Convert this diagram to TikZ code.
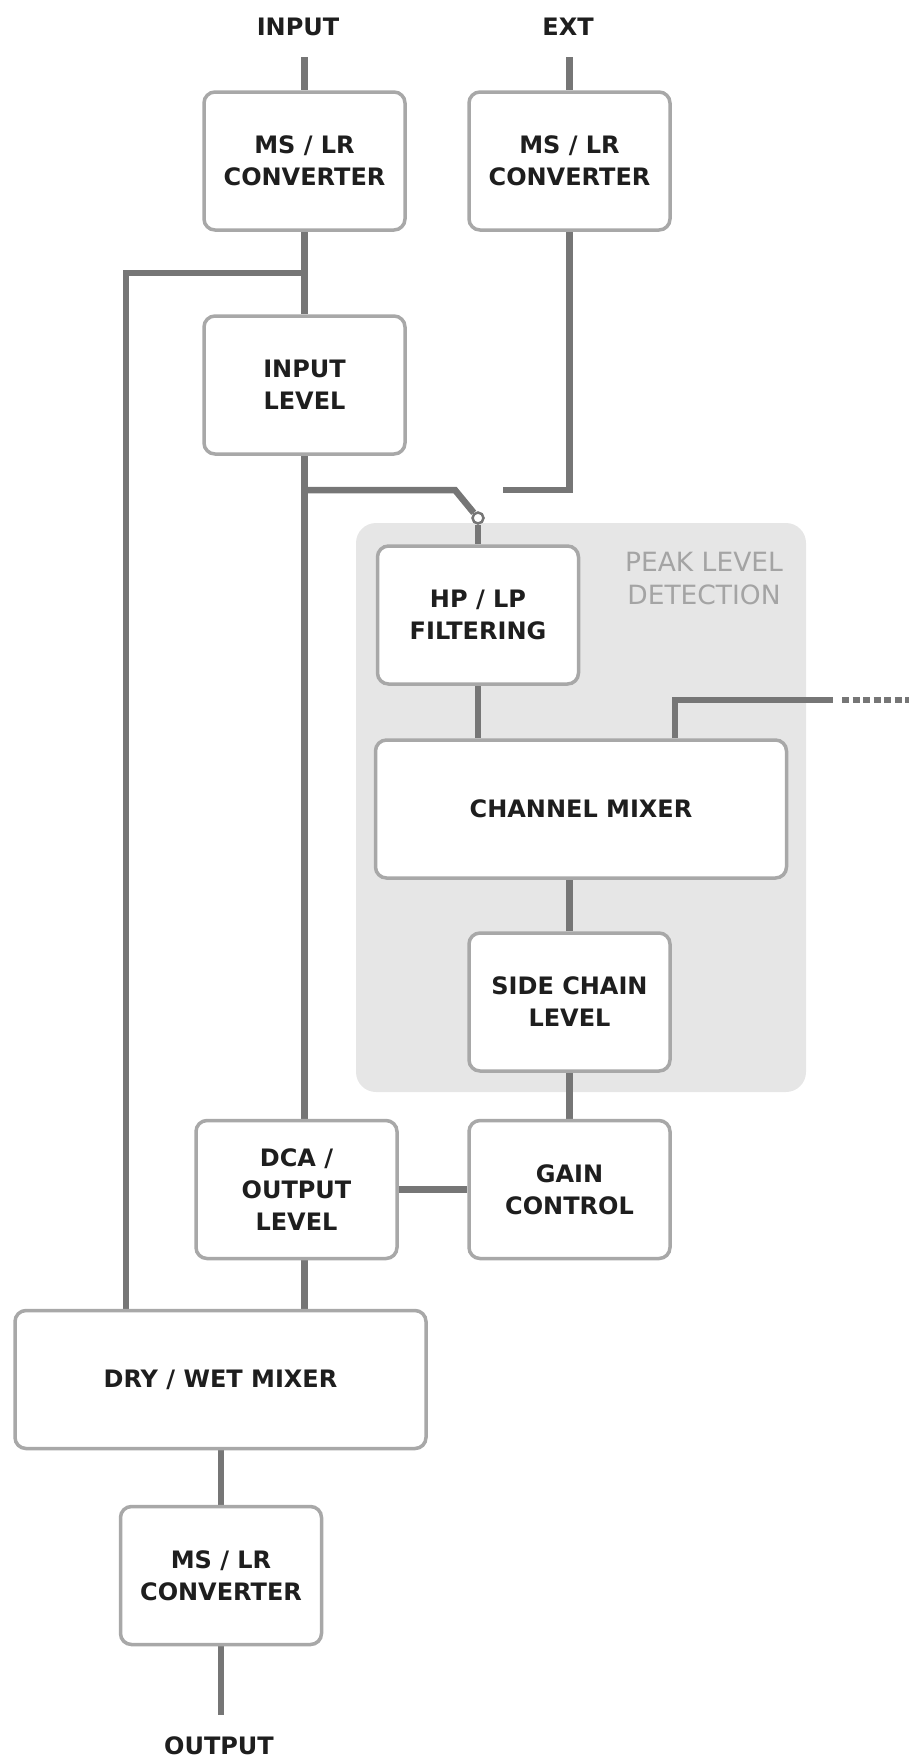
\documentclass[tikz,border=0pt]{standalone}
\usepackage{fontspec}
\setmainfont{DejaVu Sans}
\usetikzlibrary{calc}
\pgfdeclarelayer{panel}
\pgfdeclarelayer{wires}
\pgfsetlayers{panel,wires,main}
\definecolor{wiregray}{HTML}{767676}
\definecolor{boxgray}{HTML}{A8A8A8}
\definecolor{panelgray}{HTML}{E6E6E6}
\definecolor{txt}{HTML}{1E1E1E}
\definecolor{paneltxt}{HTML}{A4A4A4}
\begin{document}
\begin{tikzpicture}[x=1pt,y=-1pt,
  blk/.style={draw=boxgray, line width=3.5pt, rounded corners=11pt, fill=white,
    align=center, inner sep=0pt, text=txt,
    font=\fontsize{24}{32}\selectfont\bfseries,
    minimum width=201pt, minimum height=138pt},
  wide/.style={minimum width=411pt},
  wire/.style={draw=wiregray, line width=6.5pt},
  dotwire/.style={draw=wiregray, line width=6.5pt, dash pattern=on 7pt off 3.5pt},
  lbl/.style={text=txt, font=\fontsize{24}{32}\selectfont\bfseries, inner sep=0pt, anchor=base},
  panelbox/.style={fill=panelgray, rounded corners=20pt, inner sep=0pt},
  switchdot/.style={circle, draw=wiregray, line width=2.5pt, fill=white, minimum size=11pt, inner sep=0pt},
]
\useasboundingbox (0,0) rectangle (908,1759);

% panel
\begin{pgfonlayer}{panel}
\node[panelbox, minimum width=450pt, minimum height=569pt] (panel) at (581,807.5) {};
\end{pgfonlayer}
\node[text=paneltxt, align=center, inner sep=0pt,
  font=\fontsize{26.5}{33}\selectfont] (peak) at (704,579) {PEAK LEVEL\\DETECTION};

% labels
\node[lbl] (inlab) at (298,35) {INPUT};
\node[lbl] (extlab) at (568,35) {EXT};
\node[lbl] (outlab) at (219,1754.5) {OUTPUT};

% blocks
\node[blk] (inA) at (304.5,161) {MS / LR\\CONVERTER};
\node[blk] (inB) at (569.5,161) {MS / LR\\CONVERTER};
\node[blk] (lvl) at (304.5,385) {INPUT\\LEVEL};
\node[blk] (hplp) at (478,615) {HP / LP\\FILTERING};
\node[blk, wide] (chmix) at (581,809) {CHANNEL MIXER};
\node[blk] (sc) at (569.5,1002) {SIDE CHAIN\\LEVEL};
\node[blk] (gain) at (569.5,1189.5) {GAIN\\CONTROL};
\node[blk] (dca) at (296.5,1189.5) {DCA /\\OUTPUT\\LEVEL};
\node[blk, wide] (dw) at (220.5,1379.5) {DRY / WET MIXER};
\node[blk] (out) at (221,1575.5) {MS / LR\\CONVERTER};

\node[switchdot] (sw) at (478,518) {};

% coordinates
\coordinate (inT) at (304.5,57);
\coordinate (extT) at (569.5,57);
\coordinate (j1) at (304.5,273);
\coordinate (j1L) at (126,273);
\coordinate (j2) at (304.5,490);
\coordinate (swA) at (455,490);
\coordinate (extEnd) at (503,490);
\coordinate (cmT) at (675,700);
\coordinate (solidEnd) at (833,700);
\coordinate (dotStart) at (842,700);
\coordinate (dotEnd) at (912,700);
\coordinate (outB) at (221,1715);

\begin{pgfonlayer}{wires}
\draw[wire] (inT) -- (inA);
\draw[wire] (extT) -- (inB);
\draw[wire] (inA) -- (lvl);
\draw[wire] (j1) -- (j1L) -- (j1L |- dw.north);
\draw[wire] (lvl) -- (lvl |- dw.north);
\draw[wire] (j2) -- (swA) -- (sw);
\draw[wire] (sw) -- (hplp);
\draw[wire] (inB) |- (extEnd);
\draw[wire] (hplp) -- (hplp |- chmix.north);
\draw[wire] (chmix.north -| cmT) -- (cmT) -- (solidEnd);
\draw[dotwire] (dotStart) -- (dotEnd);
\draw[wire] (sc) -- (sc |- chmix.south);
\draw[wire] (sc) -- (gain);
\draw[wire] (dca) -- (gain);
\draw[wire] (out) -- (out |- dw.south);
\draw[wire] (out) -- (outB);
\end{pgfonlayer}
\end{tikzpicture}
\end{document}
